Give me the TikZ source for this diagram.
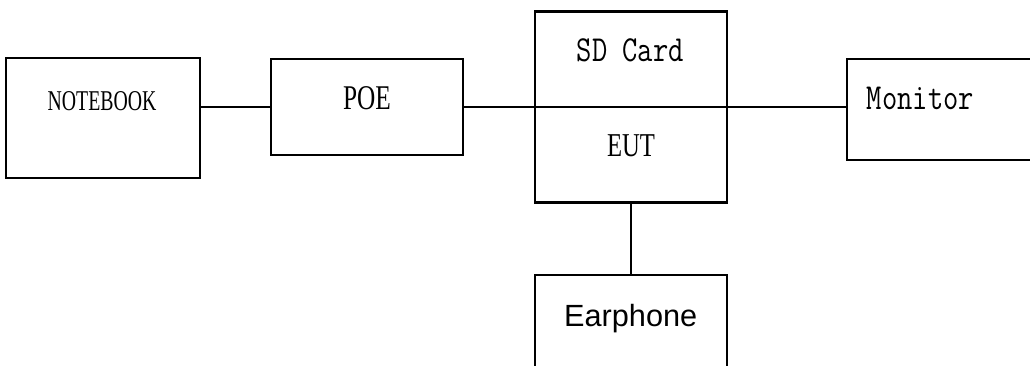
\documentclass[tikz,border=0pt]{standalone}
\usepackage{fontspec}
\setmainfont{Liberation Serif}
\newfontfamily\sansfam{Liberation Sans}
\usetikzlibrary{positioning,calc}

\begin{document}
\begin{tikzpicture}[
    x=0.75pt, y=0.75pt,
    unit/.style={
        draw,
        line width=1.6pt,
        minimum width=144pt,
        inner sep=0pt
    },
    link/.style={line width=1.6pt},
    divider/.style={line width=1.2pt},
    serif/.style={font=\fontsize{21.5}{24}\selectfont, inner sep=0pt},
    mono/.style={font=\ttfamily\fontsize{27.5}{30}\selectfont, inner sep=0pt},
    sans/.style={font=\sansfam\fontsize{23}{26}\selectfont, inner sep=0pt}
]
\useasboundingbox (0,0) rectangle (1030,365);

% boxes
\node[unit, minimum width=145.5pt, minimum height=90pt] (notebook) at (103,247) {};
\node[unit, minimum height=72pt] (poe) at (367,258) {};
\node[unit, minimum height=143.25pt] (eut) at (631,258) {};
\node[unit, minimum height=75.75pt] (monitor) at (943,255.5) {};
\node[unit, minimum height=72pt] (earphone) at (631,42) {};

% texts
\node[serif, anchor=base] (notebooklbl) at (102,254.3) {\scalebox{0.69}[1]{NOTEBOOK}};
\node[serif, font=\fontsize{26}{28}\selectfont, anchor=base] (poelbl) at (367,255.7) {\scalebox{0.73}[1]{POE}};
\node[mono, anchor=base] (sdlbl) at (630.3,304) {\scalebox{0.81}[1]{SD Card}};
\node[serif, font=\fontsize{25}{28}\selectfont, anchor=base] (eutlbl) at (631,208.3) {\scalebox{0.74}[1]{EUT}};
\node[mono, anchor=base west] (monitorlbl) at (866.7,255.7) {\scalebox{0.81}[1]{Monitor}};
\node[sans, anchor=base] (earphonelbl) at (630.7,38.3) {Earphone};

% connections
\draw[link] (poe.west) -- (poe.west -| notebook.east);
\draw[link] (poe.east) -- (eut.west);
\draw[divider] (eut.west) -- (eut.east);
\draw[link] (eut.east) -- (eut.east -| monitor.west);
\draw[link] (eut.south) -- (earphone.north);

\end{tikzpicture}
\end{document}
